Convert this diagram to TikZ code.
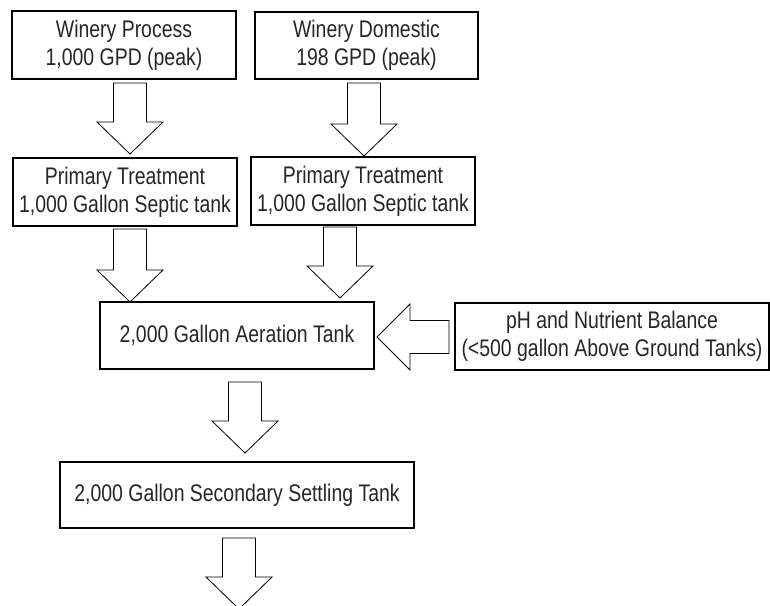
\documentclass[tikz,border=0pt]{standalone}
\usepackage{fontspec}
\setmainfont{Liberation Sans}[FakeStretch=0.81]
\usetikzlibrary{calc}

\tikzset{
  tank/.style={draw, line width=1.6pt, outer sep=0pt, inner sep=1pt, align=center,
    text=black!85, font=\fontsize{24}{27.6}\selectfont},
  flowarrow/.style={draw, line width=0.8pt, fill=white, line join=miter}
}

% hollow block arrow pointing down: x, from anchor, to anchor, gap at start, gap at tip
\newcommand{\blockdown}[5]{%
  \draw [flowarrow] let \p1=(#1,0 |- #2), \p2=(#1,0 |- #3) in
    (\x1-16.5,\y1-#4) -- (\x1+16.5,\y1-#4) -- (\x1+16.5,\y2+#5+32) -- (\x1+33,\y2+#5+32)
    -- (\x1,\y2+#5) -- (\x1-33,\y2+#5+32) -- (\x1-16.5,\y2+#5+32) -- cycle;}
% hollow block arrow pointing left: y, from anchor, to anchor, gap at start, gap at tip
\newcommand{\blockleft}[5]{%
  \draw [flowarrow] let \p1=(#2 |- 0,#1), \p2=(#3 |- 0,#1) in
    (\x1-#4,\y1+16.5) -- (\x1-#4,\y1-16.5) -- (\x2+#5+33,\y1-16.5) -- (\x2+#5+33,\y1-33)
    -- (\x2+#5,\y1) -- (\x2+#5+33,\y1+33) -- (\x2+#5+33,\y1+16.5) -- cycle;}

\begin{document}
\begin{tikzpicture}[x=1pt,y=1pt]
    \useasboundingbox (0,0) rectangle (770,-605);
    \node [tank, minimum width=224pt, minimum height=68pt] (wp) at (124,-45) {Winery Process\\1,000 GPD (peak)};
    \node [tank, minimum width=223pt, minimum height=67pt] (wd) at (366.5,-45.5) {Winery Domestic\\198 GPD (peak)};
    \node [tank, minimum width=224pt, minimum height=68pt] (pt1) at (125,-192) {Primary Treatment\\1,000 Gallon Septic tank};
    \node [tank, minimum width=224pt, minimum height=68pt] (pt2) at (363,-191) {Primary Treatment\\1,000 Gallon Septic tank};
    \node [tank, minimum width=274pt, minimum height=67pt] (at) at (237,-335.5) {2,000 Gallon Aeration Tank};
    \node [tank, minimum width=314pt, minimum height=67pt] (ph) at (612,-336.5) {pH and Nutrient Balance\\(<500 gallon Above Ground Tanks)};
    \node [tank, minimum width=354pt, minimum height=66pt] (st) at (237,-495) {2,000 Gallon Secondary Settling Tank};
    \coordinate (out) at (239,-609);
    \blockdown{130}{wp.south}{pt1.north}{4}{4}
    \blockdown{364}{wd.south}{pt2.north}{4}{1}
    \blockdown{130}{pt1.south}{at.north}{3}{0}
    \blockdown{340}{pt2.south}{at.north}{2}{4}
    \blockdown{245}{at.south}{st.north}{13}{9}
    \blockdown{239}{st.south}{out}{10}{0}
    \blockleft{-337}{ph.west}{at.east}{6}{3}
\end{tikzpicture}
\end{document}
